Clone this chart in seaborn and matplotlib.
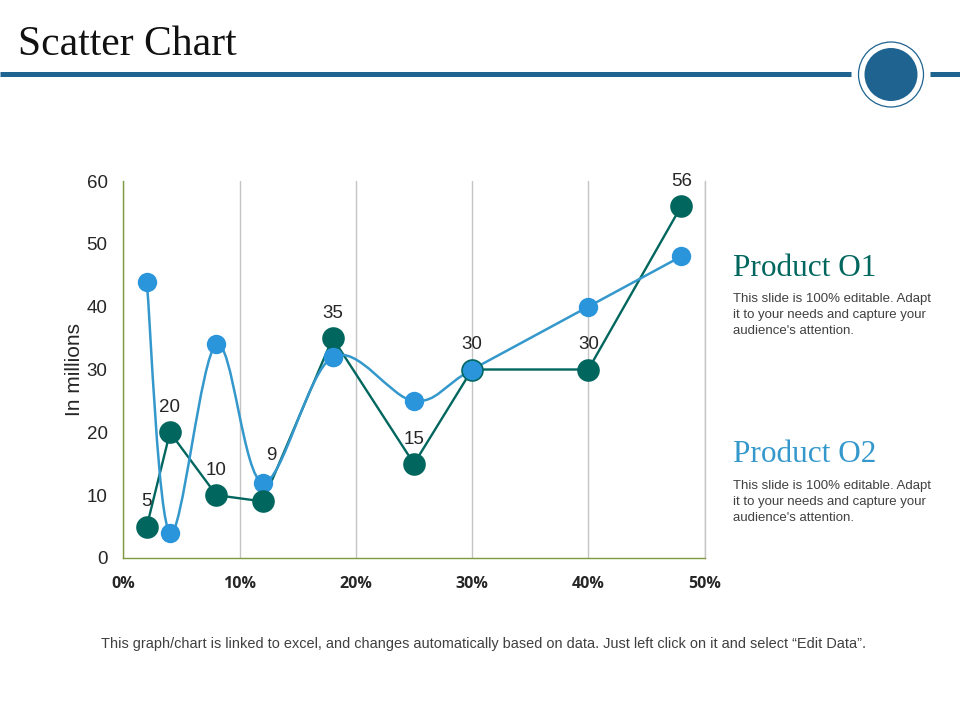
import numpy as np
import pandas as pd
import matplotlib.pyplot as plt
import seaborn as sns
from matplotlib.patches import Circle, PathPatch
from matplotlib.path import Path
from matplotlib.ticker import PercentFormatter

# values
share_blue = [2, 4, 8, 12, 18, 25, 30, 40, 48]
value_blue = [44, 4, 34, 12, 32, 25, 30, 40, 48]
share_green = [2, 4, 8, 12, 18, 25, 30, 40, 48]
value_green = [5, 20, 10, 9, 35, 15, 30, 30, 56]
y_ticks = [0, 10, 20, 30, 40, 50, 60]
x_ticks = [0, 10, 20, 30, 40, 50]

GREEN = '#00665e'
BLUE = '#2b95dc'
LINE_BLUE = '#3498cc'
BAND = '#1f6391'
BODY = '#404040'
SERIF = 'Liberation Serif'
SANS = 'Liberation Sans'
note = "This slide is 100% editable. Adapt\nit to your needs and capture your\naudience's attention."

sns.set_theme(style='white')
plt.rcParams['font.family'] = [SANS, 'DejaVu Sans']

df_blue = pd.DataFrame({'share': share_blue, 'value': value_blue})
df_green = pd.DataFrame({'share': share_green, 'value': value_green})

fig = plt.figure(figsize=(9.6, 7.2), dpi=100)
ax = fig.add_axes([123.5 / 960, 1 - 558 / 720, 581 / 960, 377 / 720])


# excel style smooth line, bezier through the data points
def smooth_path(xs, ys):
    pts = np.column_stack([xs, ys]).astype(float)
    verts = [pts[0]]
    codes = [Path.MOVETO]
    for i in range(len(pts) - 1):
        before = pts[max(i - 1, 0)]
        after = pts[min(i + 2, len(pts) - 1)]
        verts += [pts[i] + (pts[i + 1] - before) / 6, pts[i + 1] - (after - pts[i]) / 6, pts[i + 1]]
        codes += [Path.CURVE4] * 3
    return Path(verts, codes)


sns.lineplot(data=df_green, x='share', y='value', sort=False, estimator=None, color=GREEN, lw=1.7, ax=ax, zorder=2)
ax.add_patch(PathPatch(smooth_path(share_blue, value_blue), fill=False, edgecolor=LINE_BLUE, lw=1.8, zorder=2.5))
sns.scatterplot(data=df_blue, x='share', y='value', color=BLUE, s=195, linewidth=0, ax=ax, zorder=3)
sns.scatterplot(data=df_green, x='share', y='value', color=GREEN, s=265, linewidth=0, ax=ax, zorder=4)
# blue stays on top of green at 18% and 30%
on_top = df_blue[df_blue['share'].isin([18, 30])]
sns.scatterplot(data=on_top, x='share', y='value', color=BLUE, s=195, linewidth=0, ax=ax, zorder=5)

for x, y in zip(share_green, value_green):
    # the 9 label was dragged away from its point in the original
    offset = (5.8, 33) if y == 9 else (0, 17.7)
    ax.annotate(str(y), (x, y), xytext=offset, textcoords='offset points', ha='center', va='center',
                fontsize=13.5, color='#262626', zorder=6)

ax.set_xlim(0, 50)
ax.set_ylim(0, 60)
ax.set_xticks(x_ticks)
ax.set_yticks(y_ticks)
ax.xaxis.set_major_formatter(PercentFormatter(decimals=0))
ax.grid(axis='x', color='#c4c4c4', lw=1)
ax.grid(axis='y', visible=False)
ax.set_axisbelow(True)
ax.tick_params(axis='y', labelsize=13.5, labelcolor='#262626', pad=11.5, length=0)
ax.tick_params(axis='x', labelsize=11.5, labelcolor='#262626', pad=12.7, length=0)
for lab in ax.get_xticklabels():
    lab.set_fontweight('bold')
    lab.set_fontfamily('Open Sans')
ax.set_xlabel('')
ax.set_ylabel('In millions', fontsize=15, color='#262626', labelpad=1.5)
sns.despine(ax=ax, top=True, right=True)
for side in ['left', 'bottom']:
    ax.spines[side].set_color('#7f9a3e')
    ax.spines[side].set_linewidth(1)
ax.spines['right'].set_visible(True)
ax.spines['right'].set_color('#c4c4c4')
ax.spines['right'].set_linewidth(1)

# page furniture in pixel coordinates
page = fig.add_axes([0, 0, 1, 1], facecolor='none')
page.set_xlim(0, 960)
page.set_ylim(720, 0)
page.axis('off')
page.plot([0, 851], [74, 74], color=BAND, lw=3.6, solid_capstyle='butt')
page.plot([930, 960], [74, 74], color=BAND, lw=3.6, solid_capstyle='butt')
page.add_patch(Circle((891, 74.5), 32.5, facecolor='white', edgecolor=BAND, lw=0.9))
page.add_patch(Circle((891, 74.5), 26.5, facecolor=BAND, edgecolor='none'))

page.text(18, 45, 'Scatter Chart', family=SERIF, fontsize=30, color='#111111', va='center')
page.text(733, 268, 'Product O1', family=SERIF, fontsize=22.5, color=GREEN, va='center')
page.text(733, 454, 'Product O2', family=SERIF, fontsize=22.5, color=LINE_BLUE, va='center')
page.text(733, 315, note, fontsize=9.55, color=BODY, va='center', linespacing=1.4)
page.text(733, 502, note, fontsize=9.55, color=BODY, va='center', linespacing=1.4)
page.text(483.5, 644, 'This graph/chart is linked to excel, and changes automatically based on data. Just left click on it and select \u201cEdit Data\u201d.',
          fontsize=10.45, color=BODY, ha='center', va='center')

fig.savefig('out.png', dpi=100)
